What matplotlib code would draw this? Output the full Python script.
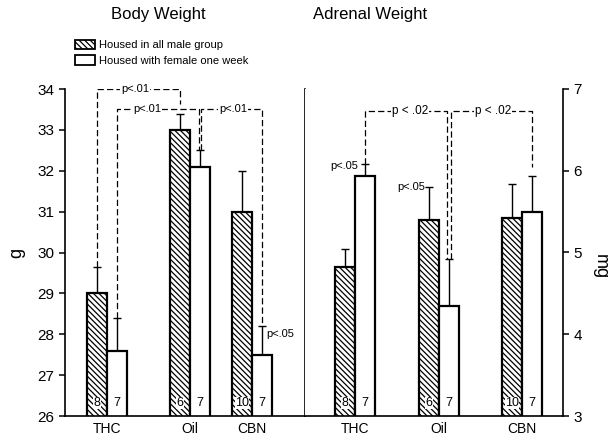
import matplotlib.pyplot as plt
from matplotlib.patches import Patch

plt.rcParams['font.family'] = ['Liberation Sans', 'DejaVu Sans']
plt.rcParams['hatch.linewidth'] = 0.9

groups = ['THC', 'Oil', 'CBN']
n_male = ['8', '6', '10']
n_female = ['7', '7', '7']

# body weight (g)
body_male = [29.0, 33.0, 31.0]
body_male_err = [0.65, 0.4, 1.0]
body_female = [27.6, 32.1, 27.5]
body_female_err = [0.8, 0.4, 0.7]

# adrenal weight (mg)
adr_male = [4.82, 5.4, 5.42]
adr_male_err = [0.22, 0.4, 0.42]
adr_female = [5.94, 4.35, 5.5]
adr_female_err = [0.14, 0.57, 0.44]

left_centers = [2.1, 6.25, 9.35]
right_centers = [2.5, 6.7, 10.85]

fig = plt.figure(figsize=(6.11, 4.4), dpi=100)
W, H = 611, 440
ax1 = fig.add_axes([65 / W, 1 - 416 / H, 240 / W, 327 / H])
ax2 = fig.add_axes([305 / W, 1 - 416 / H, 258 / W, 327 / H])

dash = dict(color='black', lw=0.9, linestyle=(0, (5, 2.5)))
ptxt = dict(fontsize=8, ha='center', va='center',
            bbox=dict(facecolor='white', edgecolor='none', pad=0.6))


def draw_panel(ax, centers, male, male_err, female, female_err):
    xm = [c - 0.5 for c in centers]
    xf = [c + 0.5 for c in centers]
    ax.bar(xm, male, width=1, color='white', edgecolor='black',
           hatch='\\\\\\\\\\\\', lw=1.6, zorder=2)
    ax.bar(xf, female, width=1, color='white', edgecolor='black', lw=1.6, zorder=2)
    ax.errorbar(xm, male, yerr=[[0] * 3, male_err], fmt='none', ecolor='black',
                elinewidth=1, capsize=3, capthick=1, zorder=1)
    ax.errorbar(xf, female, yerr=[[0] * 3, female_err], fmt='none', ecolor='black',
                elinewidth=1, capsize=3, capthick=1, zorder=1)
    tr = ax.get_xaxis_transform()
    for i in range(3):
        ax.text(xm[i], 0.04, n_male[i], transform=tr, ha='center', va='center',
                fontsize=9, zorder=3,
                bbox=dict(facecolor='white', edgecolor='none', pad=0.3))
        ax.text(xf[i], 0.04, n_female[i], transform=tr, ha='center', va='center',
                fontsize=9, zorder=3)
    ax.set_xticks(centers)
    ax.set_xticklabels(groups, fontsize=10)
    ax.tick_params(axis='x', length=0, pad=4)
    ax.spines['top'].set_visible(False)
    for s in ax.spines.values():
        s.set_linewidth(1.2)
    return xm, xf


# ---- body weight panel
ax1.set_xlim(0, 12)
ax1.set_ylim(26, 34)
ax1.set_yticks(range(26, 35))
ax1.tick_params(axis='y', direction='out', length=4, labelsize=11, width=1.1)
bm_x, bf_x = draw_panel(ax1, left_centers, body_male, body_male_err,
                        body_female, body_female_err)
bm_top = [v + e for v, e in zip(body_male, body_male_err)]
bf_top = [v + e for v, e in zip(body_female, body_female_err)]

lv1, lv2 = 34.0, 33.5
ax1.plot([bm_x[0], bm_x[0], bm_x[1], bm_x[1]], [bm_top[0], lv1, lv1, lv2 + 0.13], **dash)
ax1.plot([bf_x[0], bf_x[0], bf_x[1] - 0.06, bf_x[1] - 0.06],
         [bf_top[0], lv2, lv2, bf_top[1]], **dash)
ax1.plot([bf_x[1] + 0.06, bf_x[1] + 0.06, bf_x[2], bf_x[2]],
         [bf_top[1], lv2, lv2, bf_top[2]], **dash)
ax1.text(3.5, lv1, 'p<.01', **ptxt)
ax1.text(4.1, lv2, 'p<.01', **ptxt)
ax1.text(8.4, lv2, 'p<.01', **ptxt)
ax1.text(bf_x[2] + 0.2, 28.0, 'p<.05', fontsize=8, ha='left', va='center')

# ---- adrenal weight panel
ax2.set_xlim(0, 12.9)
ax2.set_ylim(3, 7)
ax2.set_yticks(range(3, 8))
ax2.yaxis.tick_right()
ax2.spines['left'].set_visible(False)
ax2.tick_params(axis='y', direction='out', length=4, labelsize=11, width=1.1)
am_x, af_x = draw_panel(ax2, right_centers, adr_male, adr_male_err,
                        adr_female, adr_female_err)
am_top = [v + e for v, e in zip(adr_male, adr_male_err)]
af_top = [v + e for v, e in zip(adr_female, adr_female_err)]

lv3 = 6.73
ax2.plot([af_x[0], af_x[0], af_x[1] - 0.12, af_x[1] - 0.12],
         [af_top[0], lv3, lv3, af_top[1]], **dash)
ax2.plot([af_x[1] + 0.12, af_x[1] + 0.12, af_x[2], af_x[2]],
         [af_top[1], lv3, lv3, af_top[2] + 0.1], **dash)
ptxt2 = dict(ptxt, fontsize=8.5)
ax2.text(5.25, lv3, 'p < .02', **ptxt2)
ax2.text(9.4, lv3, 'p < .02', **ptxt2)
ax2.text(af_x[0] - 0.35, af_top[0] - 0.02, 'p<.05', fontsize=8, ha='right', va='center')
ax2.text(am_x[1] - 0.2, am_top[1], 'p<.05', fontsize=8, ha='right', va='center')

# ---- titles, axis labels, legend
fig.text(158 / W, 1 - 15 / H, 'Body Weight', fontsize=12, ha='center', va='center')
fig.text(370 / W, 1 - 15 / H, 'Adrenal Weight', fontsize=12, ha='center', va='center')
fig.text(17 / W, 1 - 253 / H, 'g', fontsize=13, rotation=90, ha='center', va='center')
fig.text(600 / W, 1 - 267 / H, 'mg', fontsize=13, rotation=270, ha='center', va='center')

handles = [Patch(facecolor='white', edgecolor='black', hatch='\\\\\\\\\\\\', lw=1.3,
                 label='Housed in all male group'),
           Patch(facecolor='white', edgecolor='black', lw=1.3,
                 label='Housed with female one week')]
fig.legend(handles=handles, loc='upper left', bbox_to_anchor=(75 / W, 1 - 40 / H),
           frameon=False, fontsize=8, handlelength=1.8, handleheight=0.9,
           handletextpad=0.4, borderpad=0, borderaxespad=0, labelspacing=0.45)

fig.savefig('out.png', dpi=100)
